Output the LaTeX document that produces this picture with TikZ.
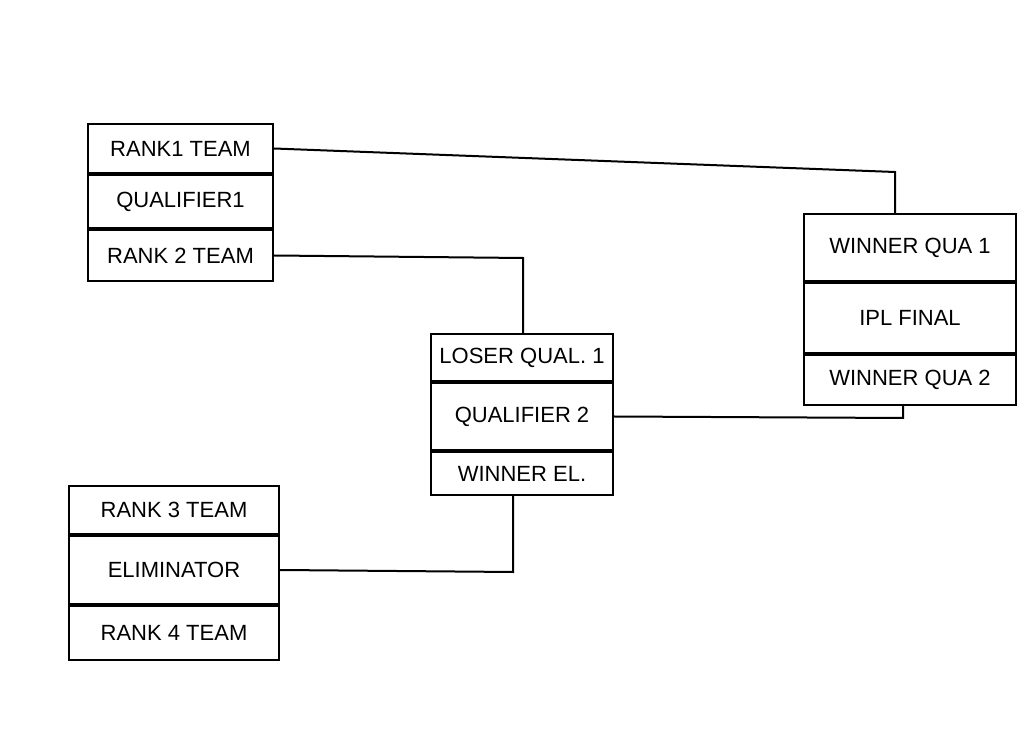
\documentclass[tikz,border=0pt]{standalone}
\usepackage{fontspec}
\setmainfont{Liberation Sans}
\usetikzlibrary{positioning}
\begin{document}
\begin{tikzpicture}[x=0.5pt,y=-0.5pt,line width=1pt,
  cell/.style={draw, rectangle, inner sep=0pt, font=\fontsize{11}{13}\selectfont}]
\useasboundingbox (0,0) rectangle (1024,748);
		% qualifier 1
		\node[cell, minimum width=92.5pt, minimum height=24.5pt, anchor=north west] (R1) at (87,123) {RANK1 TEAM};
		\node[cell, minimum width=92.5pt, minimum height=26.5pt, below=0pt of R1] (QA) {QUALIFIER1};
		\node[cell, minimum width=92.5pt, minimum height=25.5pt, below=0pt of QA] (R2) {RANK 2 TEAM};
		
		% qualifier 2
		\node[cell, minimum width=91pt, minimum height=23.5pt, anchor=north west] (LQ) at (430,333) {LOSER QUAL. 1};
		\node[cell, minimum width=91pt, minimum height=33.5pt, below=0pt of LQ] (QB) {QUALIFIER 2};
		\node[cell, minimum width=91pt, minimum height=21.5pt, below=0pt of QB] (WE) {WINNER EL.};
		
		% eliminator
		\node[cell, minimum width=105pt, minimum height=24pt, anchor=north west] (R3) at (68,485) {RANK 3 TEAM};
		\node[cell, minimum width=105pt, minimum height=34pt, below=0pt of R3] (EL) {ELIMINATOR};
		\node[cell, minimum width=105pt, minimum height=27pt, below=0pt of EL] (R4) {RANK 4 TEAM};
		
		% final
		\node[cell, minimum width=106pt, minimum height=33.5pt, anchor=north west] (W1) at (803,213) {WINNER QUA 1};
		\node[cell, minimum width=106pt, minimum height=35pt, below=0pt of W1] (FI) {IPL FINAL};
		\node[cell, minimum width=106pt, minimum height=25pt, below=0pt of FI] (W2) {WINNER QUA 2};
		
		\coordinate (C1) at (895,172);
		\coordinate (C2) at (523,258);
		\coordinate (C3) at (903,418);
		\coordinate (C4) at (513,572);
		
		\draw (R1.east) -- (C1) -- (C1 |- W1.north);
		\draw (R2.east) -- (C2) -- (C2 |- LQ.north);
		\draw (QB.east) -- (C3) -- (C3 |- W2.south);
		\draw (EL.east) -- (C4) -- (C4 |- WE.south);
\end{tikzpicture}
\end{document}
